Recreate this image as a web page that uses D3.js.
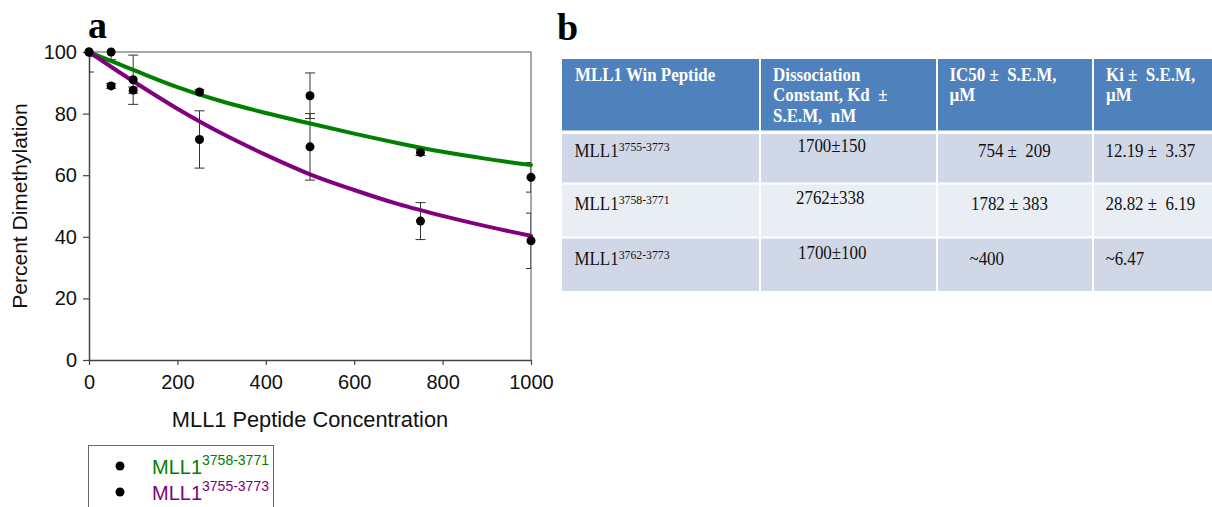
<!DOCTYPE html>
<html>
<head>
<meta charset="utf-8">
<script src="https://cdn.jsdelivr.net/npm/d3@7"></script>
<style>
  body { margin: 0; background: #fff; }
  svg { display: block; }
  .sans { font-family: Arial, "Liberation Sans", sans-serif; }
  .serif { font-family: "Times New Roman", "Liberation Serif", serif; white-space: pre; }
</style>
</head>
<body>
<svg id="fig" width="1212" height="507"></svg>
<script>
// panel a data
const concentrations = [0, 50, 100, 250, 500, 750, 1000];
const shortValues = [100, 100, 91, 87, 85.8, 67.4, 59.3];     // MLL1 3758-3771
const shortErrors = [6.5, 2.5, 8, 0.8, 7.4, 1, 4.8];
const longValues = [100, 89, 87.6, 71.6, 69.2, 45.1, 38.7];    // MLL1 3755-3773
const longErrors = [1.5, 0.8, 1, 9.3, 10.8, 6, 9];

// fitted curves
const fitX = [0, 100, 200, 300, 400, 500, 600, 700, 800, 900, 1000];
const shortFit = [100, 94.2, 88.6, 84, 80.2, 76.8, 73.5, 70.4, 67.6, 65.3, 63.3];
const longFit = [100, 90.5, 81.6, 73.6, 66.6, 60.3, 55.2, 50.6, 46.8, 43.4, 40.3];

const xTicks = [0, 200, 400, 600, 800, 1000];
const yTicks = [0, 20, 40, 60, 80, 100];

// panel b data
const headerLines = [
  ["MLL1 Win Peptide"],
  ["Dissociation", "Constant, Kd  \u00b1", "S.E.M,  nM"],
  ["IC50 \u00b1  S.E.M,", "\u00b5M"],
  ["Ki \u00b1  S.E.M,", "\u00b5M"]
];
const peptideRanges = ["3755-3773", "3758-3771", "3762-3773"];
const kdValues = ["1700\u00b1150", "2762\u00b1338", "1700\u00b1100"];
const ic50Values = ["754 \u00b1  209", "1782 \u00b1 383", "~400"];
const kiValues = ["12.19 \u00b1  3.37", "28.82 \u00b1  6.19", "~6.47"];

const GREEN = "#008000", PURPLE = "#800080";

const svg = d3.select("#fig");

// ---------- panel a ----------
const x = d3.scaleLinear().domain([0, 1000]).range([89, 531]);
const y = d3.scaleLinear().domain([0, 100]).range([360, 52]);

svg.append("text")
  .attr("class", "serif")
  .attr("x", 88).attr("y", 38)
  .attr("font-size", 38).attr("font-weight", "bold")
  .text("a");

svg.append("defs").append("clipPath").attr("id", "plotClip")
  .append("rect")
  .attr("x", x(0)).attr("y", y(100))
  .attr("width", x(1000) - x(0)).attr("height", y(0) - y(100));

// plot area border (top + right)
svg.append("path")
  .attr("d", `M${x(0)},${y(100)}H${x(1000)}V${y(0)}`)
  .attr("fill", "none").attr("stroke", "#8c8c8c").attr("stroke-width", 1.5);

const yAxis = svg.append("g")
  .attr("class", "sans")
  .attr("transform", `translate(${x(0)},0)`)
  .call(d3.axisLeft(y).tickValues(yTicks).tickSize(6).tickPadding(6).tickSizeOuter(0));
const xAxis = svg.append("g")
  .attr("class", "sans")
  .attr("transform", `translate(0,${y(0)})`)
  .call(d3.axisBottom(x).tickValues(xTicks).tickFormat(d3.format("d"))
    .tickSize(5).tickPadding(10).tickSizeOuter(0));
[xAxis, yAxis].forEach(g => {
  g.selectAll("path.domain").attr("stroke", "#444").attr("stroke-width", 1.5);
  g.selectAll(".tick line").attr("stroke", "#444").attr("stroke-width", 1.2);
  g.selectAll(".tick text").attr("font-size", 20).attr("fill", "#111")
    .attr("font-family", "Arial, 'Liberation Sans', sans-serif");
});

svg.append("text")
  .attr("class", "sans")
  .attr("transform", `translate(27,${(y(0) + y(100)) / 2}) rotate(-90)`)
  .attr("text-anchor", "middle").attr("font-size", 21).attr("fill", "#111")
  .text("Percent Dimethylation");

svg.append("text")
  .attr("class", "sans")
  .attr("x", 310).attr("y", 427)
  .attr("text-anchor", "middle").attr("font-size", 21.8).attr("fill", "#111")
  .text("MLL1 Peptide Concentration");

const plot = svg.append("g").attr("clip-path", "url(#plotClip)");

const series = [
  { name: "3758-3771", color: GREEN, values: shortValues, errors: shortErrors, fit: shortFit },
  { name: "3755-3773", color: PURPLE, values: longValues, errors: longErrors, fit: longFit }
];

// error bars
series.forEach(s => {
  const pts = concentrations.map((c, i) => ({ c, v: s.values[i], e: s.errors[i] }));
  const eb = plot.append("g").selectAll("g").data(pts).join("g")
    .attr("stroke", "#333").attr("stroke-width", 1);
  eb.append("line")
    .attr("x1", d => x(d.c)).attr("x2", d => x(d.c))
    .attr("y1", d => y(d.v + d.e)).attr("y2", d => y(d.v - d.e));
  eb.append("line")
    .attr("x1", d => x(d.c) - 5).attr("x2", d => x(d.c) + 5)
    .attr("y1", d => y(d.v + d.e)).attr("y2", d => y(d.v + d.e));
  eb.append("line")
    .attr("x1", d => x(d.c) - 5).attr("x2", d => x(d.c) + 5)
    .attr("y1", d => y(d.v - d.e)).attr("y2", d => y(d.v - d.e));
});

// fit lines
const line = d3.line()
  .curve(d3.curveMonotoneX)
  .x((d, i) => x(fitX[i]))
  .y(d => y(d));
series.forEach(s => {
  svg.append("path")
    .attr("d", line(s.fit))
    .attr("fill", "none")
    .attr("stroke", s.color)
    .attr("stroke-width", 4)
    .attr("stroke-linecap", "round");
});

// markers
series.forEach(s => {
  svg.append("g").selectAll("circle")
    .data(concentrations.map((c, i) => ({ c, v: s.values[i] })))
    .join("circle")
    .attr("cx", d => x(d.c)).attr("cy", d => y(d.v))
    .attr("r", 4.5).attr("fill", "#000");
});

// legend
svg.append("rect")
  .attr("x", 88.5).attr("y", 445.5).attr("width", 185).attr("height", 80)
  .attr("fill", "#fff").attr("stroke", "#666").attr("stroke-width", 1);
const legendRows = svg.append("g").selectAll("g")
  .data([series[0], series[1]]).join("g")
  .attr("transform", (d, i) => `translate(0,${466 + i * 26})`);
legendRows.append("circle")
  .attr("cx", 120).attr("cy", 0).attr("r", 4.5).attr("fill", "#000");
const lt = legendRows.append("text")
  .attr("class", "sans")
  .attr("x", 152).attr("y", 8)
  .attr("fill", d => d.color);
lt.append("tspan").attr("font-size", 20).text("MLL1");
lt.append("tspan").attr("font-size", 14).attr("dy", -9).text(d => d.name);

// ---------- panel b ----------
svg.append("text")
  .attr("class", "serif")
  .attr("x", 557).attr("y", 40)
  .attr("font-size", 38).attr("font-weight", "bold")
  .text("b");

const colEdges = [[562, 759], [761, 936], [938, 1092], [1094, 1212]];
const rowEdges = [[59, 130.5], [134, 182.5], [184.5, 236.5], [238.5, 291]];
const rowFill = ["#4f81bd", "#d0d8e8", "#e9edf4", "#d0d8e8"];
const SX = 0.94;

const table = svg.append("g");
rowEdges.forEach((r, ri) => {
  table.append("g").selectAll("rect").data(colEdges).join("rect")
    .attr("x", c => c[0]).attr("width", c => c[1] - c[0])
    .attr("y", r[0]).attr("height", r[1] - r[0])
    .attr("fill", rowFill[ri]);
});

function cellText(px, py, opts) {
  return table.append("text")
    .attr("class", "serif")
    .attr("transform", `translate(${px},${py}) scale(${SX},1)`)
    .attr("font-size", 18)
    .attr("fill", opts.fill || "#111")
    .attr("font-weight", opts.bold ? "bold" : null);
}

// header
const headerX = [575, 773, 949.5, 1106];
headerLines.forEach((lines, ci) => {
  lines.forEach((t, li) => {
    cellText(headerX[ci], 81 + li * 20.4, { fill: "#fff", bold: true }).text(t);
  });
});

// body rows
const rowBase = [157, 209.5, 264.5];
peptideRanges.forEach((pr, ri) => {
  const t = cellText(574.5, rowBase[ri], {});
  t.append("tspan").text("MLL1");
  t.append("tspan").attr("font-size", 12.5).attr("dy", -6).text(pr);
});
const kdX = [797.5, 796, 798];
kdValues.forEach((v, ri) => cellText(kdX[ri], rowBase[ri] - 5.5, {}).text(v));
const icX = [978, 971, 969.5];
ic50Values.forEach((v, ri) => cellText(icX[ri], rowBase[ri], {}).text(v));
kiValues.forEach((v, ri) => cellText(1105.5, rowBase[ri], {}).text(v));
</script>
</body>
</html>
